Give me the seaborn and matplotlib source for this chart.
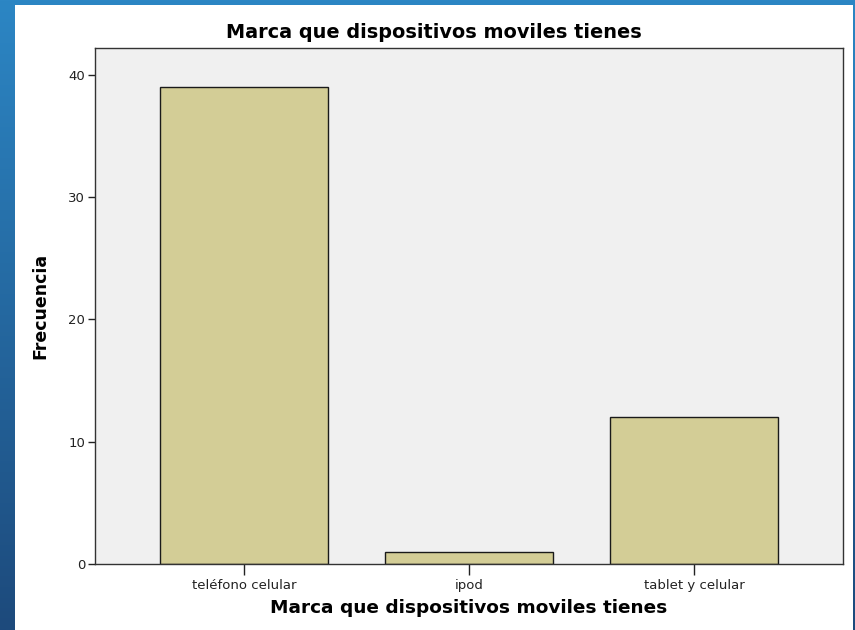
import numpy as np
import pandas as pd
import matplotlib
matplotlib.use("Agg")
import matplotlib.pyplot as plt
import seaborn as sns
from matplotlib.patches import Rectangle

# Data
categorias = ["teléfono celular", "ipod", "tablet y celular"]
frecuencias = [39, 1, 12]
y_ticks = [0, 10, 20, 30, 40]

df = pd.DataFrame({"Marca": categorias, "Frecuencia": frecuencias})

sns.set_style("white")
plt.rcParams["font.family"] = ["DejaVu Sans"]
plt.rcParams["text.color"] = "black"
plt.rcParams["axes.labelcolor"] = "black"
plt.rcParams["xtick.color"] = "#222222"
plt.rcParams["ytick.color"] = "#222222"

fig = plt.figure(figsize=(8.55, 6.3), dpi=100)

# blue slide background with gradient
bg = fig.add_axes([0, 0, 1, 1], zorder=-10)
grad = np.linspace(0, 1, 256).reshape(-1, 1)
cmap = matplotlib.colors.LinearSegmentedColormap.from_list("slide", ["#2c86c4", "#1d4a7c"])
bg.imshow(grad, aspect="auto", cmap=cmap, extent=[0, 1, 0, 1], origin="upper")
bg.set_axis_off()
fig.patches.append(Rectangle((15 / 855, 0), (853 - 15) / 855, (630 - 5) / 630,
                             transform=fig.transFigure, facecolor="white",
                             edgecolor="none", zorder=-5))

ax = fig.add_axes([95 / 855, 1 - 564 / 630, (843 - 95) / 855, (564 - 48) / 630])
sns.barplot(data=df, x="Marca", y="Frecuencia", ax=ax, color="#d3cd96",
            edgecolor="#1a1a1a", linewidth=1.0, width=0.747, saturation=1)

ax.set_facecolor("#f0f0f0")
ax.set_xlim(-0.664, 2.662)
ax.set_ylim(0, 42.2)
ax.set_yticks(y_ticks)
ax.tick_params(axis="y", length=5, width=1, labelsize=9.5, direction="out", pad=2, left=True)
ax.tick_params(axis="x", length=8, width=1, labelsize=9.5, direction="out", pad=3, bottom=True)
for s in ax.spines.values():
    s.set_color("#333333")
    s.set_linewidth(1.0)

fig.text(434 / 855, 1 - 33 / 630, "Marca que dispositivos moviles tienes",
         fontsize=13.9, fontweight="bold", ha="center", va="center")
ax.set_xlabel("Marca que dispositivos moviles tienes", fontsize=13.3, fontweight="bold", labelpad=5)
ax.set_ylabel("Frecuencia", fontsize=12.5, fontweight="bold", labelpad=14)

fig.savefig("out.png", dpi=100)
